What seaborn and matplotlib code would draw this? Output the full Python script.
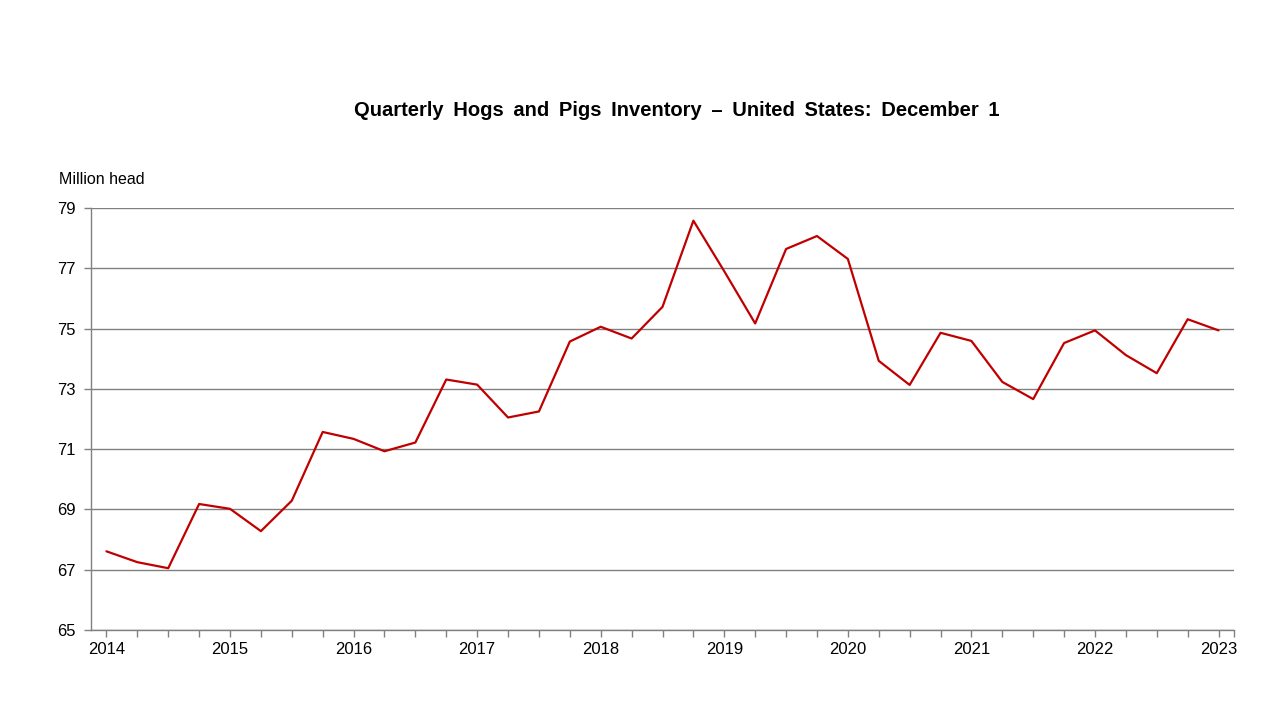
import matplotlib
matplotlib.use("Agg")
import matplotlib.pyplot as plt
import seaborn as sns
import pandas as pd
import numpy as np

years = ["2014", "2015", "2016", "2017", "2018", "2019", "2020", "2021", "2022", "2023"]
inventory = [
    67.61, 67.25, 67.05, 69.18,
    69.02, 68.28, 69.29, 71.57,
    71.34, 70.93, 71.22, 73.31,
    73.14, 72.05, 72.25, 74.57,
    75.06, 74.67, 75.72, 78.58,
    76.90, 75.17, 77.64, 78.07,
    77.31, 73.93, 73.13, 74.86,
    74.59, 73.23, 72.66, 74.52,
    74.94, 74.12, 73.52, 75.31,
    74.94,
]
y_ticks = [65, 67, 69, 71, 73, 75, 77, 79]
title = "Quarterly Hogs and Pigs Inventory \u2013 United States: December 1"

sns.set_style("white")
plt.rcParams['font.family'] = ['Liberation Sans', 'DejaVu Sans']
plt.rcParams['text.color'] = 'black'

df = pd.DataFrame({"q": np.arange(len(inventory)), "v": inventory})

fig = plt.figure(figsize=(12.8, 7.2), dpi=100)
ax = fig.add_axes([91/1280, 1 - 630/720, (1234 - 91)/1280, (630 - 208)/720])

sns.lineplot(data=df, x="q", y="v", ax=ax, color="#C00000", linewidth=1.6)

ax.set_xlim(-0.5, len(inventory) - 0.5)
ax.set_ylim(65, 79)
ax.set_yticks(y_ticks)
ax.set_yticklabels([str(t) for t in y_ticks], fontsize=12)
ax.yaxis.grid(True, color="#808080", linewidth=1.0)
ax.xaxis.grid(False)
ax.set_axisbelow(True)

ax.set_xticks(np.arange(len(inventory)).tolist() + [len(inventory) - 0.5])
labels = []
for i in range(len(inventory)):
    labels.append(years[i // 4] if i % 4 == 0 else "")
labels.append("")
ax.set_xticklabels(labels, fontsize=12)

ax.tick_params(axis="both", which="both", direction="out", length=5, width=1,
               color="#808080", labelcolor="black", bottom=True, left=True)
ax.tick_params(axis="x", pad=4)
ax.tick_params(axis="y", pad=6)

for s in ["top", "right"]:
    ax.spines[s].set_visible(False)
for s in ["left", "bottom"]:
    ax.spines[s].set_color("#808080")
    ax.spines[s].set_linewidth(1.0)

ax.set_xlabel("")
ax.set_ylabel("")

fig.text(676.5/1280, 1 - 110/720, title.replace(" ", " \u2009"),
         ha="center", va="center", fontsize=14.5, fontweight="bold", color="black")
fig.text(59/1280, 1 - 179/720, "Million head", ha="left", va="center", fontsize=11.5,
         color="black")

fig.savefig("out.png", dpi=100)
